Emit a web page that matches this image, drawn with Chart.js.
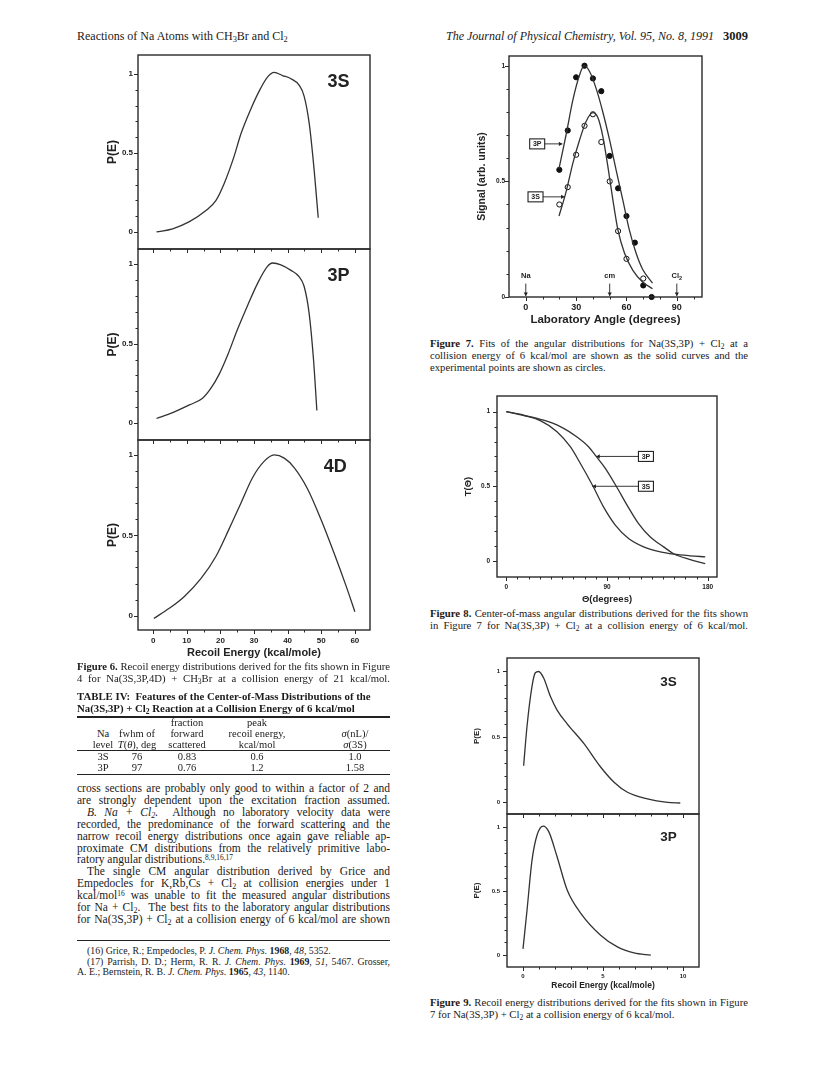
<!DOCTYPE html>
<html>
<head>
<meta charset="utf-8">
<script src="https://cdn.jsdelivr.net/npm/chart.js@4.4.1/dist/chart.umd.min.js"></script>
<style>
  body { margin: 0; background: #fff; }
  #page { position: relative; width: 824px; height: 1071px; overflow: hidden;
          font-family: "Liberation Serif", "Times New Roman", serif; color: #1a1a1a; }
  canvas { position: absolute; }
  .t { position: absolute; white-space: nowrap; }
  .L { left: 77px; width: 313px; }
  .R { left: 430px; width: 318px; }
  .blk { position: absolute; }
  .blk div { white-space: nowrap; }
  .j { text-align: justify; text-align-last: justify; }
  .in { text-indent: 10px; }
  sub { font-size: 70%; vertical-align: -0.25em; line-height: 0; }
  sup { font-size: 65%; vertical-align: 0.45em; line-height: 0; }
  .rule { position: absolute; left: 77px; width: 313px; background: #222; }
  .cell { position: absolute; width: 120px; text-align: center; font-size: 10.5px; line-height: 11px; white-space: nowrap; }
</style>
</head>
<body>
<div id="page">
  <div class="t" style="left:77px;top:29px;font-size:12px">Reactions of Na Atoms with CH<sub>3</sub>Br and Cl<sub>2</sub></div>
  <div class="t" style="right:76px;top:29px;font-size:12px"><i>The Journal of Physical Chemistry, Vol. 95, No. 8, 1991</i>&nbsp;&nbsp;&nbsp;<b style="font-size:12.5px">3009</b></div>

  <canvas id="c6a"></canvas>
  <canvas id="c6b"></canvas>
  <canvas id="c6c"></canvas>
  <canvas id="c7"></canvas>
  <canvas id="c8"></canvas>
  <canvas id="c9a"></canvas>
  <canvas id="c9b"></canvas>

  <div class="blk L" style="top:660px;font-size:10.7px;line-height:12px">
    <div class="j"><b>Figure 6.</b> Recoil energy distributions derived for the fits shown in Figure</div>
    <div class="j">4 for Na(3S,3P,4D) + CH<sub>3</sub>Br at a collision energy of 21 kcal/mol.</div>
  </div>

  <div class="blk L" style="top:690px;font-size:10.8px;line-height:12px;font-weight:bold">
    <div>TABLE IV:&nbsp; Features of the Center-of-Mass Distributions of the</div>
    <div>Na(3S,3P) + Cl<sub>2</sub> Reaction at a Collision Energy of 6 kcal/mol</div>
  </div>
  <div class="rule" style="top:716px;height:1.5px"></div>
  <div class="rule" style="top:750px;height:1px"></div>
  <div class="rule" style="top:774px;height:1px"></div>

  <div class="blk L" style="top:783px;font-size:11.5px;line-height:11.9px">
    <div class="j">cross sections are probably only good to within a factor of 2 and</div>
    <div class="j">are strongly dependent upon the excitation fraction assumed.</div>
    <div class="j in"><i>B. Na + Cl<sub>2</sub>.</i>&nbsp; Although no laboratory velocity data were</div>
    <div class="j">recorded, the predominance of the forward scattering and the</div>
    <div class="j">narrow recoil energy distributions once again gave reliable ap-</div>
    <div class="j">proximate CM distributions from the relatively primitive labo-</div>
    <div>ratory angular distributions.<sup>8,9,16,17</sup></div>
    <div class="j in">The single CM angular distribution derived by Grice and</div>
    <div class="j">Empedocles for K,Rb,Cs + Cl<sub>2</sub> at collision energies under 1</div>
    <div class="j">kcal/mol<sup>16</sup> was unable to fit the measured angular distributions</div>
    <div class="j">for Na + Cl<sub>2</sub>.&nbsp; The best fits to the laboratory angular distributions</div>
    <div class="j">for Na(3S,3P) + Cl<sub>2</sub> at a collision energy of 6 kcal/mol are shown</div>
  </div>

  <div class="rule" style="top:940px;height:1px"></div>
  <div class="blk L" style="top:946px;font-size:9.8px;line-height:10.5px">
    <div class="in">(16) Grice, R.; Empedocles, P. <i>J. Chem. Phys.</i> <b>1968</b>, <i>48</i>, 5352.</div>
    <div class="j in">(17) Parrish, D. D.; Herm, R. R. <i>J. Chem. Phys.</i> <b>1969</b>, <i>51</i>, 5467. Grosser,</div>
    <div>A. E.; Bernstein, R. B. <i>J. Chem. Phys.</i> <b>1965</b>, <i>43</i>, 1140.</div>
  </div>

  <div class="blk R" style="top:337px;font-size:10.7px;line-height:12px">
    <div class="j"><b>Figure 7.</b> Fits of the angular distributions for Na(3S,3P) + Cl<sub>2</sub> at a</div>
    <div class="j">collision energy of 6 kcal/mol are shown as the solid curves and the</div>
    <div>experimental points are shown as circles.</div>
  </div>
  <div class="blk R" style="top:607px;font-size:10.7px;line-height:12px">
    <div class="j"><b>Figure 8.</b> Center-of-mass angular distributions derived for the fits shown</div>
    <div class="j">in Figure 7 for Na(3S,3P) + Cl<sub>2</sub> at a collision energy of 6 kcal/mol.</div>
  </div>
  <div class="blk R" style="top:996px;font-size:10.7px;line-height:12px">
    <div class="j"><b>Figure 9.</b> Recoil energy distributions derived for the fits shown in Figure</div>
    <div>7 for Na(3S,3P) + Cl<sub>2</sub> at a collision energy of 6 kcal/mol.</div>
  </div>
</div>

<script>
// ---- values ----
// Figure 6: P(E) vs recoil energy (kcal/mole), Na + CH3Br
const fig6E3S = [1.0, 5.8, 10.8, 15.7, 18.7, 21.2, 24.1, 26.1, 29.1, 32.0, 34.0, 36.0, 38.5, 41.0, 43.4, 44.9, 46.4, 47.9, 49.1];
const fig6P3S = [0.00, 0.02, 0.065, 0.135, 0.20, 0.31, 0.48, 0.62, 0.78, 0.91, 0.98, 1.01, 0.99, 0.97, 0.93, 0.86, 0.69, 0.39, 0.09];
const fig6E3P = [1.0, 5.8, 10.8, 14.7, 17.2, 19.7, 22.2, 25.1, 28.1, 31.1, 34.0, 35.5, 38.0, 41.0, 43.4, 44.9, 46.4, 47.7, 48.7];
const fig6P3P = [0.03, 0.067, 0.115, 0.157, 0.22, 0.31, 0.43, 0.59, 0.74, 0.88, 0.985, 1.006, 0.995, 0.96, 0.92, 0.86, 0.69, 0.40, 0.08];
const fig6E4D = [0.2, 4.8, 9.3, 14.2, 18.7, 22.6, 26.1, 29.6, 33.0, 36.0, 39.0, 42.0, 45.9, 49.9, 53.8, 57.3, 60.0];
const fig6P4D = [-0.017, 0.046, 0.12, 0.23, 0.37, 0.54, 0.70, 0.86, 0.96, 1.0, 0.98, 0.92, 0.79, 0.60, 0.39, 0.19, 0.025];
const fig6XTicks = [0, 10, 20, 30, 40, 50, 60];
const unitTicks = [0, 0.5, 1];

// Figure 7: signal vs laboratory angle, Na + Cl2
const fig7Angle3P = [20, 25, 30, 35, 40, 45, 50, 55, 60, 65, 70, 75];
const fig7Signal3P = [0.55, 0.72, 0.95, 1.0, 0.945, 0.89, 0.61, 0.47, 0.35, 0.235, 0.05, 0.0];
const fig7Angle3S = [20, 25, 30, 35, 40, 45, 50, 55, 60, 70];
const fig7Signal3S = [0.40, 0.475, 0.615, 0.74, 0.79, 0.67, 0.50, 0.285, 0.165, 0.08];
const fig7FitAngle3P = [19.8, 24.2, 28.1, 32.1, 34.8, 38.0, 42.0, 45.9, 49.9, 53.8, 57.8, 61.7, 65.7, 69.6, 75.5];
const fig7Fit3P = [0.555, 0.708, 0.853, 0.961, 1.0, 0.975, 0.90, 0.80, 0.68, 0.55, 0.42, 0.29, 0.19, 0.12, 0.06];
const fig7FitAngle3S = [19.8, 24.2, 28.1, 32.1, 36.0, 40.0, 43.0, 45.9, 48.9, 51.9, 54.9, 58.8, 63.8, 69.6, 75.5];
const fig7Fit3S = [0.35, 0.46, 0.58, 0.68, 0.76, 0.797, 0.775, 0.695, 0.565, 0.42, 0.29, 0.19, 0.115, 0.065, 0.036];
const fig7XTicks = [0, 30, 60, 90];

// Figure 8: T(theta) vs CM angle
const fig8Theta3P = [0, 15, 30.4, 48.3, 63.2, 73.5, 80.4, 88.5, 98.3, 107.9, 118.2, 128.7, 140.6, 149.5, 164.4, 177.8];
const fig8T3P = [1.0, 0.978, 0.949, 0.90, 0.83, 0.765, 0.70, 0.62, 0.50, 0.374, 0.25, 0.16, 0.094, 0.048, 0.009, -0.018];
const fig8Theta3S = [0, 15, 30.4, 45.3, 57.2, 66.1, 77.5, 87, 97.4, 109.3, 122.7, 137.6, 149.5, 164.4, 177.8];
const fig8T3S = [1.0, 0.975, 0.94, 0.866, 0.765, 0.654, 0.50, 0.36, 0.24, 0.15, 0.094, 0.06, 0.045, 0.034, 0.027];
const fig8XTicks = [0, 90, 180];

// Figure 9: P(E) vs recoil energy, Na + Cl2
const fig9E3S = [0.04, 0.25, 0.56, 0.77, 0.98, 1.29, 1.71, 2.13, 2.76, 3.8, 4.85, 5.69, 6.53, 7.78, 9.04, 9.83];
const fig9P3S = [0.28, 0.58, 0.885, 0.99, 1.0, 0.95, 0.81, 0.705, 0.60, 0.45, 0.27, 0.154, 0.077, 0.026, 0.0, -0.005];
const fig9E3P = [0, 0.25, 0.56, 0.88, 1.26, 1.61, 2.13, 2.76, 3.6, 4.85, 5.9, 6.94, 7.99];
const fig9P3P = [0.05, 0.35, 0.74, 0.94, 1.01, 0.966, 0.77, 0.51, 0.33, 0.157, 0.065, 0.018, 0.0];
const fig9XTicks = [0, 5, 10];

// Table IV
const tableLevel = ['3S', '3P'];
const tableFwhm = ['76', '97'];
const tableForward = ['0.83', '0.76'];
const tablePeak = ['0.6', '1.2'];
const tableSigma = ['1.0', '1.58'];

const INK = '#222';
const SANS = '"Liberation Sans", Arial, Helvetica, sans-serif';
Chart.defaults.font.family = SANS;
Chart.defaults.color = INK;

function pts(xs, ys) {
  return xs.map((x, i) => ({ x: x, y: ys[i] }));
}
function curve(xs, ys) {
  return { data: pts(xs, ys), borderColor: '#333', borderWidth: 1.3, pointRadius: 0,
           cubicInterpolationMode: 'monotone', fill: false };
}
function dots(xs, ys, filled) {
  return { data: pts(xs, ys), showLine: false, pointRadius: 2.6, pointBorderWidth: 1,
           pointBackgroundColor: filled ? '#111' : '#fff', pointBorderColor: '#111', clip: 6 };
}

// box + outward ticks
const framePlugin = {
  id: 'frame',
  afterDraw(chart, args, o) {
    const { ctx, chartArea: a, scales: { x, y } } = chart;
    ctx.save();
    ctx.strokeStyle = '#2a2a2a';
    ctx.lineWidth = 1.4;
    ctx.strokeRect(a.left, a.top, a.right - a.left, a.bottom - a.top);
    ctx.lineWidth = 1;
    const nY = Math.round((o.yTo - o.yFrom) / o.yStep);
    for (let i = 0; i <= nY; i++) {
      const v = o.yFrom + i * o.yStep;
      const major = Math.abs(v / o.yMajor - Math.round(v / o.yMajor)) < 1e-6;
      const py = Math.round(y.getPixelForValue(v)) + 0.5;
      ctx.beginPath(); ctx.moveTo(a.left, py); ctx.lineTo(a.left - (major ? 4 : 2.5), py); ctx.stroke();
    }
    const nX = Math.round((o.xTo - o.xFrom) / o.xStep);
    for (let i = 0; i <= nX; i++) {
      const v = o.xFrom + i * o.xStep;
      const major = Math.abs(v / o.xMajor - Math.round(v / o.xMajor)) < 1e-6;
      const px = Math.round(x.getPixelForValue(v)) + 0.5;
      ctx.beginPath(); ctx.moveTo(px, a.bottom); ctx.lineTo(px, a.bottom + (major ? 4 : 2.5)); ctx.stroke();
    }
    ctx.restore();
  }
};

function arrowHead(ctx, x, y, dx, dy) {
  const s = 3.5;
  ctx.beginPath();
  ctx.moveTo(x, y);
  ctx.lineTo(x - dx * s - dy * s * 0.6, y - dy * s - dx * s * 0.6);
  ctx.lineTo(x - dx * s + dy * s * 0.6, y - dy * s + dx * s * 0.6);
  ctx.closePath();
  ctx.fill();
}

// panel labels, boxed tags with arrows, Na / cm / Cl2 markers
const notesPlugin = {
  id: 'notes',
  afterDatasetsDraw(chart, args, o) {
    const { ctx, scales: { x, y } } = chart;
    ctx.save();
    ctx.fillStyle = INK; ctx.strokeStyle = INK;
    ctx.textAlign = 'center'; ctx.textBaseline = 'middle';
    (o.items || []).forEach(n => {
      const px = x.getPixelForValue(n.x), py = y.getPixelForValue(n.y);
      if (n.kind === 'label') {
        ctx.font = 'bold ' + n.size + 'px ' + SANS;
        ctx.fillText(n.text, px, py);
      } else if (n.kind === 'tag') {
        const w = 15, h = 10, tx = x.getPixelForValue(n.tipX);
        ctx.lineWidth = 1.1;
        ctx.strokeRect(px - w / 2, py - h / 2, w, h);
        ctx.font = 'bold 7px ' + SANS;
        ctx.fillText(n.text, px, py + 0.5);
        const dir = tx > px ? 1 : -1;
        ctx.lineWidth = 0.9;
        ctx.beginPath(); ctx.moveTo(px + dir * w / 2, py); ctx.lineTo(tx, py); ctx.stroke();
        arrowHead(ctx, tx, py, dir, 0);
      } else if (n.kind === 'marker') {
        ctx.font = 'bold 7.5px ' + SANS;
        if (n.sub) {
          const w1 = ctx.measureText(n.text).width;
          ctx.font = 'bold 5.5px ' + SANS;
          const w2 = ctx.measureText(n.sub).width;
          ctx.textAlign = 'left';
          ctx.fillText(n.sub, px - (w1 + w2) / 2 + w1, py + 2.5);
          ctx.font = 'bold 7.5px ' + SANS;
          ctx.fillText(n.text, px - (w1 + w2) / 2, py);
          ctx.textAlign = 'center';
        } else {
          ctx.fillText(n.text, px, py);
        }
        const top = y.getPixelForValue(n.arrowTop), bottom = y.getPixelForValue(0) - 1;
        ctx.lineWidth = 0.9;
        ctx.beginPath(); ctx.moveTo(px, top); ctx.lineTo(px, bottom); ctx.stroke();
        arrowHead(ctx, px, bottom, 0, 1);
      }
    });
    ctx.restore();
  }
};

function makePanel(id, box, m, o) {
  const c = document.getElementById(id);
  c.width = box.r - box.l + m.l + m.r;
  c.height = box.b - box.t + m.t + m.b;
  c.style.width = c.width + 'px';
  c.style.height = c.height + 'px';
  c.style.left = (box.l - m.l) + 'px';
  c.style.top = (box.t - m.t) + 'px';
  return new Chart(c, {
    type: 'line',
    data: { datasets: o.datasets },
    options: {
      responsive: false, animation: false, devicePixelRatio: 1,
      layout: { padding: { top: m.t, right: m.r, bottom: 0, left: 0 } },
      plugins: { legend: { display: false }, tooltip: { enabled: false },
                 frame: o.frame, notes: { items: o.notes || [] } },
      scales: {
        x: {
          type: 'linear', min: o.xMin, max: o.xMax,
          grid: { display: false, drawTicks: false }, border: { display: false },
          afterBuildTicks: s => { s.ticks = (o.xTicks || []).map(v => ({ value: v })); },
          afterFit: s => { s.height = m.b; s.paddingLeft = 0; s.paddingRight = 0; },
          ticks: { display: !!o.xTitle, padding: o.xPad || 0, maxRotation: 0, autoSkip: false,
                   font: { size: o.xTickSize || 7, weight: 'bold' }, color: INK },
          title: { display: !!o.xTitle, text: o.xTitle || '', padding: 0,
                   font: { size: o.xTitleSize || 10, weight: 'bold' }, color: INK }
        },
        y: {
          type: 'linear', min: o.yMin, max: o.yMax,
          grid: { display: false, drawTicks: false }, border: { display: false },
          afterBuildTicks: s => { s.ticks = unitTicks.map(v => ({ value: v })); },
          afterFit: s => { s.width = m.l; s.paddingTop = 0; s.paddingBottom = 0; },
          ticks: { padding: o.yPad, font: { size: o.yTickSize, weight: 'bold' }, color: INK,
                   callback: v => String(v) },
          title: { display: true, text: o.yTitle, padding: { top: o.yTitlePad, bottom: 0 },
                   font: { size: o.yTitleSize, weight: 'bold' }, color: INK }
        }
      }
    },
    plugins: [framePlugin, notesPlugin]
  });
}

// ---- Figure 6 ----
const fig6Frame = { xFrom: 0, xTo: 60, xStep: 5, xMajor: 10, yFrom: 0, yTo: 1, yStep: 0.1, yMajor: 0.5 };
const fig6Base = { xMin: -4.5, xMax: 64.5, yTitle: 'P(E)', yTitleSize: 12, yTitlePad: 7.8,
                   yTickSize: 8, yPad: 5, frame: fig6Frame };
makePanel('c6a', { l: 138, t: 55, r: 370, b: 249 }, { l: 40, t: 12, r: 4, b: 5 },
  Object.assign({}, fig6Base, { yMin: -0.108, yMax: 1.12, datasets: [curve(fig6E3S, fig6P3S)],
    notes: [{ kind: 'label', text: '3S', x: 55.1, y: 0.946, size: 18 }] }));
makePanel('c6b', { l: 138, t: 249, r: 370, b: 440 }, { l: 40, t: 12, r: 4, b: 5 },
  Object.assign({}, fig6Base, { yMin: -0.105, yMax: 1.094, datasets: [curve(fig6E3P, fig6P3P)],
    notes: [{ kind: 'label', text: '3P', x: 55.1, y: 0.925, size: 18 }] }));
makePanel('c6c', { l: 138, t: 440, r: 370, b: 630 }, { l: 40, t: 12, r: 4, b: 30 },
  Object.assign({}, fig6Base, { yMin: -0.089, yMax: 1.093, datasets: [curve(fig6E4D, fig6P4D)],
    xTicks: fig6XTicks, xTickSize: 8, xPad: 6.2, xTitle: 'Recoil Energy (kcal/mole)', xTitleSize: 11,
    notes: [{ kind: 'label', text: '4D', x: 54.2, y: 0.922, size: 18 }] }));

// ---- Figure 7 ----
makePanel('c7', { l: 509, t: 56, r: 703, b: 297 }, { l: 40, t: 12, r: 4, b: 30 }, {
  xMin: -10, xMax: 105, yMin: 0, yMax: 1.042,
  yTitle: 'Signal (arb. units)', yTitleSize: 10.5, yTitlePad: 6.4, yTickSize: 6.5, yPad: 4,
  xTicks: fig7XTicks, xTickSize: 9, xPad: 5.6, xTitle: 'Laboratory Angle (degrees)', xTitleSize: 11.5,
  frame: { xFrom: 0, xTo: 100, xStep: 10, xMajor: 30, yFrom: 0, yTo: 1, yStep: 0.1, yMajor: 0.5 },
  datasets: [
    curve(fig7FitAngle3P, fig7Fit3P),
    curve(fig7FitAngle3S, fig7Fit3S),
    dots(fig7Angle3P, fig7Signal3P, true),
    dots(fig7Angle3S, fig7Signal3S, false)
  ],
  notes: [
    { kind: 'tag', text: '3P', x: 6.8, y: 0.662, tipX: 21.8 },
    { kind: 'tag', text: '3S', x: 5.8, y: 0.433, tipX: 23.1 },
    { kind: 'marker', text: 'Na', x: 0, y: 0.092, arrowTop: 0.058 },
    { kind: 'marker', text: 'cm', x: 50, y: 0.092, arrowTop: 0.058 },
    { kind: 'marker', text: 'Cl', sub: '2', x: 90, y: 0.092, arrowTop: 0.058 }
  ]
});

// ---- Figure 8 ----
makePanel('c8', { l: 497, t: 396, r: 717, b: 577 }, { l: 40, t: 12, r: 4, b: 28 }, {
  xMin: -8.3, xMax: 188.3, yMin: -0.108, yMax: 1.105,
  yTitle: 'T(Θ)', yTitleSize: 9.5, yTitlePad: 5.3, yTickSize: 6.5, yPad: 7,
  xTicks: fig8XTicks, xTickSize: 6.5, xPad: 6.1, xTitle: 'Θ(degrees)', xTitleSize: 9.5,
  frame: { xFrom: 0, xTo: 180, xStep: 10, xMajor: 90, yFrom: 0, yTo: 1, yStep: 0.1, yMajor: 0.5 },
  datasets: [curve(fig8Theta3P, fig8T3P), curve(fig8Theta3S, fig8T3S)],
  notes: [
    { kind: 'tag', text: '3P', x: 124.8, y: 0.70, tipX: 80.4 },
    { kind: 'tag', text: '3S', x: 124.8, y: 0.50, tipX: 77.0 }
  ]
});

// ---- Figure 9 ----
const fig9Frame = { xFrom: 0, xTo: 10, xStep: 1, xMajor: 5, yFrom: 0, yTo: 1, yStep: 0.1, yMajor: 0.5 };
const fig9Base = { xMin: -1, xMax: 11, yTitle: 'P(E)', yTitleSize: 8, yTitlePad: 5.2,
                   yTickSize: 6, yPad: 7, frame: fig9Frame };
makePanel('c9a', { l: 507, t: 658, r: 699, b: 814 }, { l: 40, t: 12, r: 4, b: 5 },
  Object.assign({}, fig9Base, { yMin: -0.089, yMax: 1.103, datasets: [curve(fig9E3S, fig9P3S)],
    notes: [{ kind: 'label', text: '3S', x: 9.1, y: 0.917, size: 13.5 }] }));
makePanel('c9b', { l: 507, t: 814, r: 699, b: 967 }, { l: 40, t: 12, r: 4, b: 24 },
  Object.assign({}, fig9Base, { yMin: -0.092, yMax: 1.104, datasets: [curve(fig9E3P, fig9P3P)],
    xTicks: fig9XTicks, xTickSize: 6, xPad: 5.4, xTitle: 'Recoil Energy (kcal/mole)', xTitleSize: 8.5,
    notes: [{ kind: 'label', text: '3P', x: 9.1, y: 0.92, size: 13.5 }] }));

// ---- Table IV cells ----
const page = document.getElementById('page');
const colCenters = [103, 137, 187, 257, 355];
const tableHead = [
  ['Na', 'level'],
  ['fwhm of', '<i>T</i>(<i>θ</i>), deg'],
  ['fraction', 'forward', 'scattered'],
  ['peak', 'recoil energy,', 'kcal/mol'],
  ['<i>σ</i>(nL)/', '<i>σ</i>(3S)']
];
function cell(html, cx, cy) {
  const d = document.createElement('div');
  d.className = 'cell';
  d.innerHTML = html;
  d.style.left = (cx - 60) + 'px';
  d.style.top = (cy - 5.5) + 'px';
  page.appendChild(d);
}
tableHead.forEach((lines, c) => {
  lines.forEach((txt, k) => cell(txt, colCenters[c], 744 - (lines.length - 1 - k) * 11));
});
[tableLevel, tableFwhm, tableForward, tablePeak, tableSigma].forEach((col, c) => {
  col.forEach((txt, r) => cell(txt, colCenters[c], 756 + r * 11));
});
</script>
</body>
</html>
